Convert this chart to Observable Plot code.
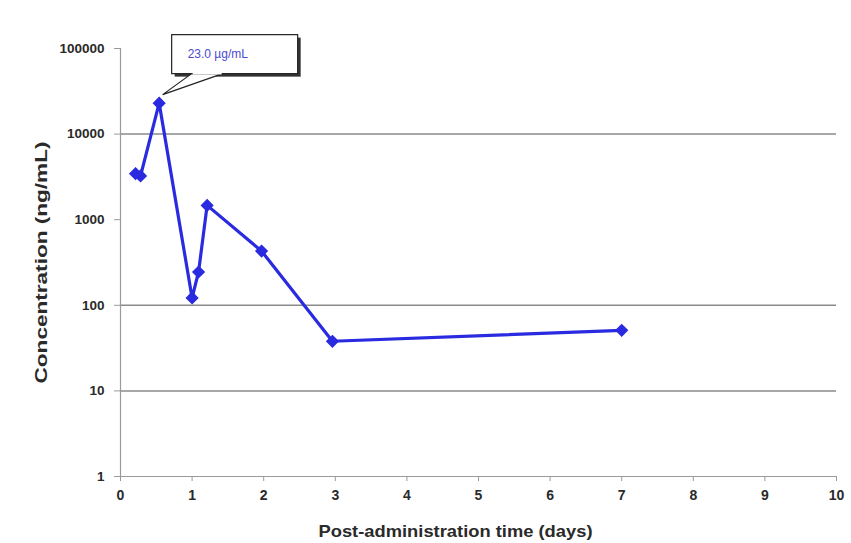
<!DOCTYPE html>
<html>
<head>
<meta charset="utf-8">
<script src="https://cdn.jsdelivr.net/npm/d3@7"></script>
<script src="https://cdn.jsdelivr.net/npm/@observablehq/plot@0.6"></script>
<style>
  html, body { margin: 0; padding: 0; background: #ffffff; }
  #chart { width: 851px; height: 543px; }
  svg { font-family: "Liberation Sans", Arial, sans-serif; }
</style>
</head>
<body>
<div id="chart"></div>
<script>
// Data
const timeDays = [0.21, 0.28, 0.54, 1.0, 1.09, 1.21, 1.97, 2.96, 7.0];
const concNgPerMl = [3450, 3250, 23000, 122, 245, 1470, 430, 38, 51];
const yTicks = [1, 10, 100, 1000, 10000, 100000];
const xTicks = [0, 1, 2, 3, 4, 5, 6, 7, 8, 9, 10];
const gridLevels = [10, 100, 10000];
const peakLabel = "23.0 µg/mL";

const data = timeDays.map((t, i) => ({t, c: concNgPerMl[i]}));
const peak = data.reduce((a, b) => (b.c > a.c ? b : a));
const blue = "#2a2ae0";

const plot = Plot.plot({
  width: 851,
  height: 543,
  marginLeft: 120,
  marginRight: 15,
  marginTop: 48,
  marginBottom: 67,
  style: {fontFamily: "Liberation Sans, Arial, sans-serif", background: "transparent"},
  x: {domain: [0, 10]},
  y: {type: "log", domain: [1, 100000]},
  marks: [
    Plot.ruleY(gridLevels, {stroke: "#8a8a8a", strokeWidth: 1.5, strokeOpacity: 1}),
    Plot.ruleX([0], {stroke: "#9a9a9a", strokeWidth: 1.2}),
    Plot.ruleY([1], {stroke: "#9a9a9a", strokeWidth: 1.2}),
    Plot.axisX({ticks: xTicks, tickSize: 5, tickPadding: 9, stroke: "#9a9a9a",
      fontSize: 14, fontWeight: "bold", fill: "#2a2a2a",
      label: "Post-administration time (days)", labelAnchor: "center", labelArrow: "none",
      labelOffset: 60}),
    Plot.axisY({ticks: yTicks, tickSize: 6, tickPadding: 10, stroke: "#9a9a9a",
      tickFormat: d => String(d), fontSize: 13.5, fontWeight: "bold", fill: "#2a2a2a",
      label: "Concentration (ng/mL)", labelAnchor: "center", labelArrow: "none",
      labelOffset: 86}),
    Plot.line(data, {x: "t", y: "c", stroke: blue, strokeWidth: 3.2}),
    Plot.dot(data, {x: "t", y: "c", symbol: "diamond2", r: 5, fill: blue, stroke: blue})
  ]
});

// Style axis labels
const svg = d3.select(plot);
svg.selectAll("g[aria-label='x-axis label'] text")
  .style("font-size", "17px").style("font-weight", "bold").attr("fill", "#2a2a2a")
  .attr("dx", -23).attr("textLength", 274).attr("lengthAdjust", "spacingAndGlyphs");
svg.selectAll("g[aria-label='y-axis label'] text")
  .style("font-size", "17px").style("font-weight", "bold").attr("fill", "#2a2a2a")
  .attr("textLength", 242).attr("lengthAdjust", "spacingAndGlyphs");

// Callout annotation anchored to the peak data point through the scales
const px = plot.scale("x").apply(peak.t);
const py = plot.scale("y").apply(peak.c);
const g = svg.append("g");
const bx0 = px + 13, bx1 = px + 139, by0 = py - 68, by1 = py - 29;
// shadow
g.append("rect").attr("x", bx0 + 3).attr("y", by0 + 3).attr("width", bx1 - bx0).attr("height", by1 - by0)
  .attr("fill", "#333");
// pointer
g.append("path")
  .attr("d", `M${px + 33},${by1} L${px + 4},${py - 8} L${px + 64},${by1} Z`)
  .attr("fill", "#fff").attr("stroke", "#222").attr("stroke-width", 1.2);
g.append("rect").attr("x", bx0).attr("y", by0).attr("width", bx1 - bx0).attr("height", by1 - by0)
  .attr("fill", "#fff").attr("stroke", "#222").attr("stroke-width", 1.2);
// cover box bottom edge where pointer joins
g.append("line").attr("x1", px + 34).attr("x2", px + 63).attr("y1", by1).attr("y2", by1)
  .attr("stroke", "#fff").attr("stroke-width", 1.6);
g.append("text").attr("x", bx0 + 16).attr("y", by0 + 23)
  .attr("text-anchor", "start")
  .attr("fill", "#4a4ad0").attr("font-size", 12).text(peakLabel);

document.getElementById("chart").append(plot);
</script>
</body>
</html>
